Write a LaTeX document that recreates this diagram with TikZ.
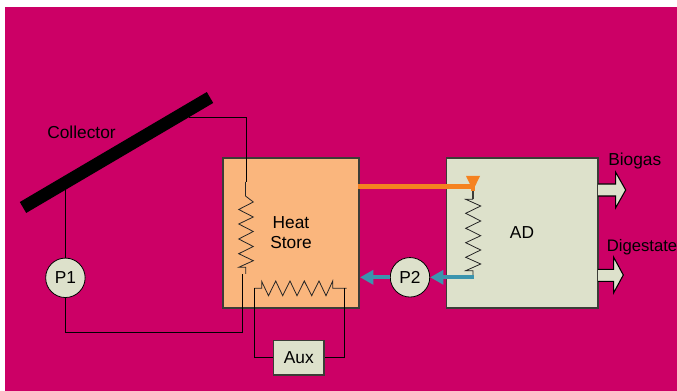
\documentclass[tikz,border=0pt]{standalone}
\usepackage{fontspec}
\setmainfont{Liberation Sans}
\usetikzlibrary{arrows.meta}
\definecolor{plotback}{RGB}{204,0,102}
\definecolor{storefill}{RGB}{250,182,125}
\definecolor{paleolive}{RGB}{221,225,203}
\definecolor{hotline}{RGB}{245,130,32}
\definecolor{coldline}{RGB}{58,148,174}
\definecolor{edgegrey}{RGB}{60,60,55}
\tikzset{
  label text/.style={font=\fontsize{13}{15.5}\selectfont,inner sep=0pt,align=center},
  tank/.style={draw=edgegrey,line width=0.8pt,inner sep=0pt,label text},
  pump/.style={draw=black,fill=paleolive,circle,line width=0.6pt,minimum size=29.6pt,inner sep=0pt,label text},
  pipe/.style={draw=black,line width=0.75pt},
  coil/.style={draw=black!85,line width=0.6pt},
  hotpipe/.style={draw=hotline,line width=3.1pt},
  coldpipe/.style={draw=coldline,line width=2.7pt,-{Triangle[length=10pt,width=10.5pt]}},
  outflow/.style={draw=black,fill=paleolive,line width=0.8pt},
}
\begin{document}
\begin{tikzpicture}[x=0.75pt,y=0.75pt,yscale=-1,xscale=1]
\useasboundingbox (0,0) rectangle (677,391);

%Background
\fill [plotback] (5,7) rectangle (677,391);

%Tanks
\node [tank,fill=storefill,minimum width=102pt,minimum height=112.5pt] (store) at (291,233) {};
\node [tank,fill=paleolive,minimum width=113.6pt,minimum height=112.5pt] (digester) at (522.25,233) {};
\node [tank,fill=paleolive,minimum width=37.9pt,minimum height=26.2pt] (aux) at (298.75,357.5) {Aux};

%Pumps
\node [pump] (pumpA) at (65.4,277.8) {P1};
\node [pump] (pumpB) at (410,277.3) {P2};

%Collector
\coordinate (panelLow) at (23,207.5);
\coordinate (panelHigh) at (210,97.5);
\draw [line width=9.5pt,black] (panelLow) -- (panelHigh);

%Labels
\node [label text] (collectorText) at (81.5,132) {Collector};
\node [label text] (storeText) at (291,232.5) {Heat\\Store};
\node [label text] (digesterText) at (522,233) {AD};
\node [label text,anchor=west] (biogasText) at (608,161) {Biogas};
\node [label text,anchor=west,font=\fontsize{12.5}{15}\selectfont] (digestateText) at (606.5,247) {Digestate};

%Collector loop
\coordinate (panelOut) at (189,117.5);
\coordinate (storeIn) at (246,182);
\coordinate (panelIn) at (65.4,189);
\coordinate (storeOut) at (242.4,274);
\coordinate (loopCorner) at (65.4,332.2);
\draw [pipe] (panelOut) -| (storeIn);
\draw [pipe] (panelIn) -- (pumpA.north);
\draw [pipe] (pumpA.south) |- (storeOut |- loopCorner) -- (storeOut);

%Coil in the store, vertical
\draw [coil] (245.5,182) -- (245.5,196) -- (253.3,202) -- (238.7,209.5) -- (253.3,217) -- (238.7,224) -- (253.3,231.5) -- (238.7,239) -- (253.3,246.5) -- (238.7,253.7) -- (253.3,260.7) -- (238.7,267.3) -- (245.7,267.3) -- (245.7,274);

%Coil in the store, horizontal
\coordinate (auxOut) at (254.4,288.3);
\coordinate (auxBack) at (344,288.3);
\draw [coil] (auxOut) -- (261.7,288.3) -- (261.7,281.5) -- (268.5,295.7) -- (275.7,281) -- (282.7,295.7) -- (290,281) -- (297,295.7) -- (304.3,281) -- (311.7,295.7) -- (319,281) -- (326,295.7) -- (332.7,281) -- (332.7,288.3) -- (346.7,288.3);
\draw [pipe] (auxOut) |- (aux.west);
\draw [pipe] (auxBack) |- (aux.east);

%Hot line
\coordinate (hotStart) at (358,186.5);
\coordinate (hotBend) at (473,186.5);
\coordinate (hotTip) at (473,190.5);
\coordinate (coilTop) at (473,199.3);
\draw [coil,draw=edgegrey,line width=0.9pt] (hotTip) -- (coilTop);
\draw [hotpipe] (hotStart) -- (hotBend) -- (473,191.5);
\draw [draw=none,fill=hotline] (466,176) -- (480,176) -- (hotTip) -- cycle;

%Coil in the digester
\draw [coil] (coilTop) -- (465.7,199.3) -- (480.7,206) -- (465.7,213.3) -- (480.7,221) -- (465.7,228.3) -- (480.7,235.7) -- (465.7,242.7) -- (480.7,250) -- (465.7,257.3) -- (480.7,264) -- (465.7,270.7) -- (473,270.7) -- (473,277.3);

%Cold line
\coordinate (coldStart) at (473.5,277.3);
\coordinate (coldTip) at (360,277.3);
\draw [coldpipe] (coldStart) -- (pumpB.east);
\draw [coldpipe] (pumpB.west) -- (coldTip);

%Block Arrows
\draw [outflow] (598,184) -- (615.7,184) -- (615.7,172.3) -- (625.7,190) -- (615.7,207.7) -- (615.7,196) -- (598,196);
\draw [outflow] (598,269.3) -- (613.7,269.3) -- (613.7,257.3) -- (623.3,275) -- (613.7,292.7) -- (613.7,281.3) -- (598,281.3);

\end{tikzpicture}
\end{document}
